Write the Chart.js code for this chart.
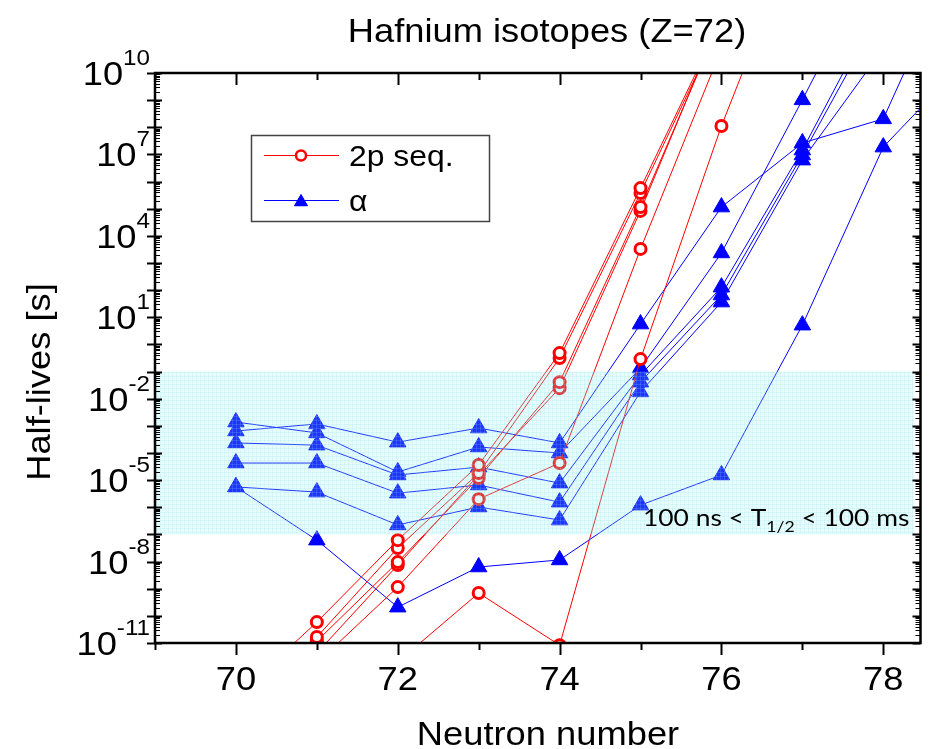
<!DOCTYPE html>
<html>
<head>
<meta charset="utf-8">
<title>Hafnium isotopes (Z=72)</title>
<script src="https://cdn.jsdelivr.net/npm/chart.js@4.4.1/dist/chart.umd.min.js"></script>
<style>
    html, body { margin: 0; padding: 0; background: #fff; }
    canvas { display: block; }
</style>
</head>
<body>
<canvas id="halflife-chart" width="931" height="749"></canvas>
<script>
// Neutron numbers (x axis)
const neutrons = [70, 71, 72, 73, 74, 75, 76, 77, 78, 79];

// log10 of the 2p sequential half-lives [s], one array per calculation
const twoP1 = [-13.0, -10.23, -7.21, -4.44, -0.32, 5.76, 11.95, null, null, null];
const twoP2 = [null, -10.78, -7.50, -4.74, -0.50, 5.58, 11.85, null, null, null];
const twoP3 = [null, -10.93, -8.02, -4.92, -1.39, 5.06, 12.0, null, null, null];
const twoP4 = [null, -11.37, -8.13, -4.80, -1.61, 4.92, 12.1, null, null, null];
const twoP5 = [null, -11.74, -8.94, -5.70, -4.37, 3.52, 10.88, null, null, null];
const twoP6 = [null, null, -11.7, -9.16, -11.08, -0.54, 8.05, 15.6, null, null];

// log10 of the alpha-decay half-lives [s]
const alpha1 = [-3.19, -2.93, -3.60, -3.08, -3.63, 0.75, 5.06, 7.42, 8.31, 14.9];
const alpha2 = [-2.86, -3.26, -4.70, -3.78, -4.00, -0.87, 3.37, 9.01, 14.8, null];
const alpha3 = [-3.63, -3.71, -4.81, -4.52, -5.11, -1.13, 2.11, 7.16, 12.8, null];
const alpha4 = [-4.37, -4.37, -5.48, -5.18, -5.81, -1.39, 1.82, 6.98, 12.4, null];
const alpha5 = [-5.25, -5.44, -6.65, -5.99, -6.47, -1.75, 1.56, 6.79, 10.9, null];
const alpha6 = [-5.25, -7.21, -9.68, -8.20, -7.94, -5.92, -4.81, 0.71, 7.27, 10.4];

// Axis ticks
const yTickExponents = [10, 7, 4, 1, -2, -5, -8, -11];
const xTickLabels = [70, 72, 74, 76, 78];

// Highlighted window 100 ns < T1/2 < 100 ms
const bandLimits = [1e-7, 1e-1];

const RED = '#ff0000';
const BLUE = '#0000ff';
const STRETCH = 1.1;   // text is a little wider than plain Arial

function toPoints(logs) {
    return neutrons
        .map((n, i) => ({ x: n, y: logs[i] === null ? null : Math.pow(10, logs[i]) }))
        .filter(p => p.y !== null);
}

function twoPSet(logs) {
    return {
        data: toPoints(logs),
        borderColor: RED,
        borderWidth: 1,
        pointStyle: 'circle',
        pointRadius: 5.5,
        pointBorderWidth: 3,
        pointBorderColor: RED,
        pointBackgroundColor: '#ffffff'
    };
}

function alphaSet(logs) {
    return {
        data: toPoints(logs),
        borderColor: BLUE,
        borderWidth: 1,
        pointStyle: 'triangle',
        pointRadius: 9.5,
        pointBorderWidth: 1,
        pointBorderColor: BLUE,
        pointBackgroundColor: BLUE
    };
}

function drawText(ctx, str, x, y, font, align) {
    ctx.save();
    ctx.font = font;
    ctx.textAlign = align || 'left';
    ctx.textBaseline = 'alphabetic';
    ctx.translate(x, y);
    ctx.scale(STRETCH, 1);
    ctx.fillText(str, 0, 0);
    ctx.restore();
}

function textWidth(ctx, str, font) {
    ctx.save();
    ctx.font = font;
    const w = ctx.measureText(str).width * STRETCH;
    ctx.restore();
    return w;
}

function line(ctx, x1, y1, x2, y2, w) {
    ctx.lineWidth = w;
    ctx.beginPath();
    ctx.moveTo(x1, y1);
    ctx.lineTo(x2, y2);
    ctx.stroke();
}

// fine mesh used to fill the shaded window
function meshPattern(ctx) {
    const tile = document.createElement('canvas');
    tile.width = 4;
    tile.height = 4;
    const t = tile.getContext('2d');
    t.fillStyle = 'rgba(150, 235, 242, 0.22)';
    t.fillRect(0, 0, 4, 4);
    t.fillStyle = 'rgba(120, 225, 238, 0.18)';
    t.fillRect(0, 0, 4, 1);
    t.fillRect(0, 0, 1, 4);
    return ctx.createPattern(tile, 'repeat');
}

const FONT = '"Liberation Sans", Arial, sans-serif';

// Frame, ticks, labels, shaded window and legend
const framePlugin = {
    id: 'frame',
    beforeDraw(chart) {
        const ctx = chart.ctx;
        ctx.save();
        ctx.fillStyle = '#ffffff';
        ctx.fillRect(0, 0, chart.width, chart.height);
        ctx.restore();
    },
    afterDatasetsDraw(chart) {
        const ctx = chart.ctx;
        const { left, right } = chart.chartArea;
        const y = chart.scales.y;
        const yTop = y.getPixelForValue(bandLimits[1]);
        const yBot = y.getPixelForValue(bandLimits[0]);
        ctx.save();
        ctx.fillStyle = meshPattern(ctx);
        ctx.fillRect(left + 1, yTop, right - left - 8, yBot - yTop);
        ctx.restore();
    },
    afterDraw(chart) {
        const ctx = chart.ctx;
        const { left, right, top, bottom } = chart.chartArea;
        const xs = chart.scales.x;
        const ys = chart.scales.y;
        ctx.save();
        ctx.strokeStyle = '#000';
        ctx.fillStyle = '#000';

        // log ticks on left and right
        for (let e = -11; e <= 10; e++) {
            const py = Math.round(ys.getPixelForValue(Math.pow(10, e))) + 0.5;
            line(ctx, left - 8, py, left + 7, py, 2);
            line(ctx, right - 8, py, right, py, 2);
            if (e < 10) {
                for (let m = 2; m <= 9; m++) {
                    const pm = Math.round(ys.getPixelForValue(m * Math.pow(10, e))) + 0.5;
                    line(ctx, left, pm, left + 5, pm, 1);
                    line(ctx, right - 5, pm, right, pm, 1);
                }
            }
        }
        // integer ticks on bottom and top
        for (let n = 69; n <= 78; n++) {
            const px = Math.round(xs.getPixelForValue(n)) + 0.5;
            const len = n % 2 === 0 ? 12 : 7;
            line(ctx, px, bottom, px, bottom + len, 2);
            line(ctx, px, top, px, top + len, 2);
        }
        // axis lines
        ctx.lineWidth = 2.5;
        ctx.strokeRect(left, top, right - left, bottom - top);

        // y tick labels 10^n
        const baseFont = '33px ' + FONT;
        const expFont = '22px ' + FONT;
        yTickExponents.forEach(e => {
            const py = ys.getPixelForValue(Math.pow(10, e));
            const exp = String(e);
            const wExp = textWidth(ctx, exp, expFont);
            drawText(ctx, exp, 150, py - 8, expFont, 'right');
            drawText(ctx, '10', 150 - wExp, py + 12, baseFont, 'right');
        });
        // x tick labels
        xTickLabels.forEach(v => {
            drawText(ctx, String(v), xs.getPixelForValue(v), bottom + 47, baseFont, 'center');
        });

        // titles
        drawText(ctx, 'Hafnium isotopes (Z=72)', 547, 42, '33px ' + FONT, 'center');
        drawText(ctx, 'Neutron number', 548, 745, '33px ' + FONT, 'center');
        ctx.save();
        ctx.translate(50, 382);
        ctx.rotate(-Math.PI / 2);
        drawText(ctx, 'Half-lives [s]', 0, 0, '33px ' + FONT, 'center');
        ctx.restore();

        // window label
        const lblFont = '24px Lato, "Open Sans", sans-serif';
        const subFont = '16px Lato, "Open Sans", sans-serif';
        let tx = 643;
        const ty = 526;
        drawText(ctx, '100 ns < T', tx, ty, lblFont, 'left');
        tx += textWidth(ctx, '100 ns < T', lblFont);
        drawText(ctx, '1/2', tx, ty + 6, subFont, 'left');
        tx += textWidth(ctx, '1/2', subFont);
        drawText(ctx, ' < 100 ms', tx, ty, lblFont, 'left');

        // legend
        ctx.fillStyle = '#ffffff';
        ctx.fillRect(251, 135, 238, 86);
        ctx.strokeStyle = '#444';
        ctx.lineWidth = 1.5;
        ctx.strokeRect(251.5, 135.5, 238, 86);
        ctx.strokeStyle = RED;
        line(ctx, 264, 155.5, 339, 155.5, 1);
        ctx.save();
        ctx.fillStyle = '#fff';
        ctx.beginPath();
        ctx.arc(301, 155.5, 5, 0, Math.PI * 2);
        ctx.fill();
        ctx.lineWidth = 2.5;
        ctx.stroke();
        ctx.restore();
        ctx.strokeStyle = BLUE;
        ctx.fillStyle = BLUE;
        line(ctx, 264, 200.5, 339, 200.5, 1);
        ctx.lineWidth = 1;
        Chart.helpers.drawPoint(ctx, { pointStyle: 'triangle', radius: 7.5, borderWidth: 1 }, 301, 202);
        ctx.fill();
        ctx.fillStyle = '#000';
        drawText(ctx, '2p seq.', 349, 166, '29px ' + FONT, 'left');
        drawText(ctx, '\u03b1', 349, 211, '29px ' + FONT, 'left');

        ctx.restore();
    }
};

new Chart(document.getElementById('halflife-chart'), {
    type: 'line',
    data: {
        datasets: [
            twoPSet(twoP1), twoPSet(twoP2), twoPSet(twoP3),
            twoPSet(twoP4), twoPSet(twoP5), twoPSet(twoP6),
            alphaSet(alpha1), alphaSet(alpha2), alphaSet(alpha3),
            alphaSet(alpha4), alphaSet(alpha5), alphaSet(alpha6)
        ]
    },
    options: {
        responsive: false,
        animation: false,
        layout: { padding: { left: 155, right: 2, top: 73, bottom: 106 } },
        plugins: {
            legend: { display: false },
            tooltip: { enabled: false },
            title: { display: false }
        },
        scales: {
            x: { type: 'linear', min: 69, max: 78.46, display: false },
            y: { type: 'logarithmic', min: 1e-11, max: 1e10, display: false }
        }
    },
    plugins: [framePlugin]
});
</script>
</body>
</html>
